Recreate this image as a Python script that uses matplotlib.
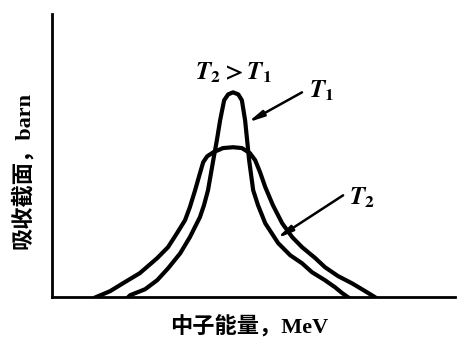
import numpy as np
import matplotlib as mpl
import matplotlib.pyplot as plt

mpl.use("Agg")

plt.rcParams.update({"font.family": ["Liberation Serif", "Noto Sans CJK SC"]})
plt.rcParams.update({"font.weight": "bold"})
plt.rcParams.update({"mathtext.fontset": "stix"})

# curves (energy and cross section in arbitrary units, 0-100)
energy_T1 = [18.9, 19.4, 23.1, 26.1, 28.8, 31.8, 34.2, 36.7, 37.7, 38.7, 40.0, 40.9, 41.7,
             42.7, 43.7, 44.9, 46.2, 47.1, 47.9, 48.4, 48.9, 49.9, 51.1, 52.9, 56.1, 59.1,
             62.0, 64.5, 67.7, 70.2, 72.0, 73.4]
sigma_T1 = [0.0, 0.7, 2.8, 6.0, 10.2, 15.5, 21.2, 28.3, 32.5, 37.8, 48.4, 55.5, 62.5,
            69.6, 71.7, 72.4, 71.7, 69.6, 62.5, 55.5, 48.4, 37.8, 32.5, 26.1, 19.1, 14.8,
            12.0, 8.8, 6.0, 3.5, 1.4, 0.0]

energy_T2 = [10.9, 14.4, 17.6, 21.8, 26.1, 28.8, 31.0, 33.0, 34.2, 35.5, 36.7, 37.5, 38.5,
             40.0, 42.4, 44.9, 47.1, 49.1, 50.4, 51.6, 52.9, 54.8, 57.1, 59.6, 62.0, 65.3,
             67.7, 71.0, 74.4, 77.7, 80.1]
sigma_T2 = [0.0, 2.1, 4.9, 8.5, 13.8, 17.7, 22.6, 27.2, 31.8, 37.8, 43.8, 47.7, 49.8,
            51.2, 52.7, 53.0, 52.7, 50.9, 48.4, 44.2, 38.9, 32.5, 26.1, 21.2, 17.7, 13.8,
            10.6, 7.4, 4.9, 2.1, 0.0]

fig = plt.figure(figsize=(4.64, 3.40), dpi=100)
ax = fig.add_axes([0.112, 0.126, 0.869, 0.832])

ax.plot(energy_T1, sigma_T1, color="black", lw=3.0, solid_joinstyle="round")
ax.plot(energy_T2, sigma_T2, color="black", lw=3.0, solid_joinstyle="round")

ax.set_xlim(0, 100)
ax.set_ylim(0, 100)
ax.set_xticks([])
ax.set_yticks([])
ax.spines["top"].set_visible(False)
ax.spines["right"].set_visible(False)
ax.spines["left"].set_linewidth(2.0)
ax.spines["bottom"].set_linewidth(2.0)

ax.text(44.9, 79.5, r"$T_2>T_1$", ha="center", va="center", fontsize=18, fontweight="normal")
ax.text(63.8, 73.1, r"$T_1$", ha="left", va="center", fontsize=18, fontweight="normal")
ax.text(73.6, 35.3, r"$T_2$", ha="left", va="center", fontsize=18, fontweight="normal")

arrow = dict(arrowstyle="-|>,head_length=0.9,head_width=0.18", color="black", lw=1.8,
             shrinkA=0, shrinkB=0)
ax.annotate("", xy=(48.6, 61.8), xytext=(62.0, 72.4), arrowprops=arrow)
ax.annotate("", xy=(55.8, 20.8), xytext=(72.2, 36.0), arrowprops=arrow)

ax.set_ylabel("吸收截面，barn", fontsize=16, fontweight="bold")
ax.yaxis.set_label_coords(-0.045, 0.449)
ax.set_xlabel("中子能量，MeV", fontsize=16, fontweight="bold")
ax.xaxis.set_label_coords(0.488, -0.067)

fig.savefig("out.png", dpi=100)
